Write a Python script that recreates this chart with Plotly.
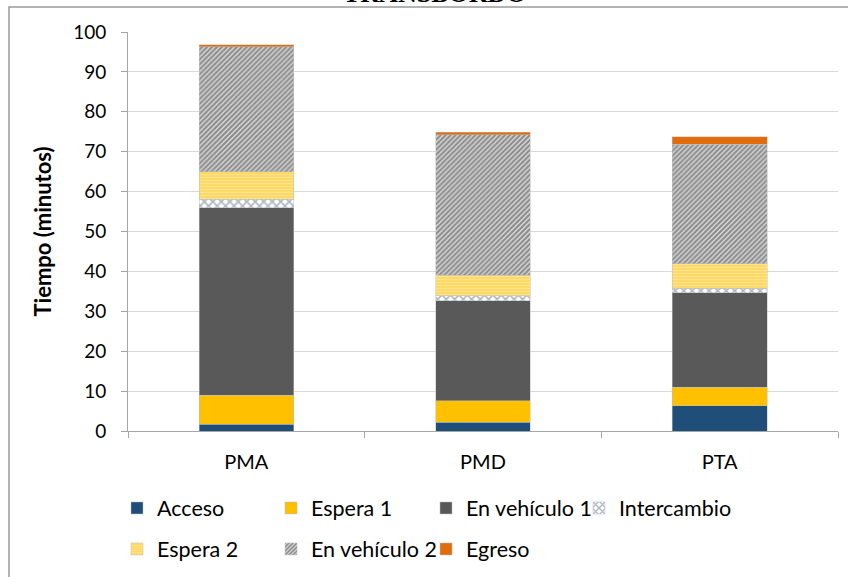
import plotly.graph_objects as go

categories = ["PMA", "PMD", "PTA"]
acceso = [1.75, 2.2, 6.3]
espera1 = [7.2, 5.4, 4.65]
en_vehiculo1 = [47.0, 25.0, 23.75]
intercambio = [2.1, 1.3, 1.1]
espera2 = [6.9, 5.1, 6.1]
en_vehiculo2 = [31.3, 35.3, 30.0]
egreso = [0.6, 0.6, 1.9]

y_ticks = [0, 10, 20, 30, 40, 50, 60, 70, 80, 90, 100]

FONT = "Lato"
W, H = 848, 577
L, T = 128, 32
PW, PH = 710, 399
R, B = W - L - PW, H - T - PH


def px_x(px):
    return (px - L) / PW


def px_y(py):
    return (T + PH - py) / PH


series = [
    ("Acceso", acceso, dict(color="#1f4e79")),
    ("Espera 1", espera1, dict(color="#ffc000")),
    ("En vehículo 1", en_vehiculo1, dict(color="#595959")),
    ("Intercambio", intercambio, dict(color="white",
                                      pattern=dict(shape="x", fgcolor="#5f6f88", bgcolor="white",
                                                   size=6, solidity=0.5, fillmode="overlay"))),
    ("Espera 2", espera2, dict(color="#ffd966",
                               pattern=dict(shape="-", fgcolor="#fff0c0", bgcolor="#ffd966",
                                            size=3, solidity=0.3, fillmode="overlay"))),
    ("En vehículo 2", en_vehiculo2, dict(color="#cfcfcf",
                                         pattern=dict(shape="/", fgcolor="#3f3f3f", bgcolor="#d4d4d4",
                                                      size=3.5, solidity=0.55, fillmode="overlay"))),
    ("Egreso", egreso, dict(color="#e36c0a")),
]

# legend placements (reference text start px, row center px)
legend_pos = [(157, 508), (311, 508), (466, 508), (619, 508),
              (157, 549), (311, 549), (466, 549)]

fig = go.Figure()
layout_legends = {}
for i, ((name, vals, mk), (tx, ty)) in enumerate(zip(series, legend_pos)):
    key = "legend" if i == 0 else f"legend{i+1}"
    mk = dict(mk)
    mk["line"] = dict(color="#bfbfbf", width=0.5)
    fig.add_trace(go.Bar(name=name, x=categories, y=vals, marker=mk,
                         legend=key, hoverinfo="skip"))
    layout_legends[key] = dict(
        x=px_x(tx - 40), y=px_y(ty), xanchor="left", yanchor="middle",
        orientation="h", bgcolor="rgba(0,0,0,0)", borderwidth=0,
        font=dict(family=FONT, size=21.5, color="#000000"),
        itemclick=False, itemdoubleclick=False, tracegroupgap=0,
    )

fig.update_layout(
    width=W, height=H,
    margin=dict(l=L, r=R, t=T, b=B, autoexpand=False),
    barmode="stack", bargap=0.6,
    plot_bgcolor="white", paper_bgcolor="white",
    font=dict(family=FONT, size=20, color="#000000"),
    showlegend=True,
    **layout_legends,
)

fig.update_xaxes(
    type="category", showgrid=False, showline=True, linecolor="#a6a6a6", linewidth=1,
    ticks="outside", tickson="boundaries", ticklen=6, tickcolor="#a6a6a6",
    tickfont=dict(family=FONT, size=20), ticklabelstandoff=13,
    automargin=False,
)
fig.update_yaxes(
    range=[0, 100], tickvals=y_ticks, showgrid=True, gridcolor="#d9d9d9", gridwidth=1,
    showline=True, linecolor="#a6a6a6", linewidth=1, zeroline=False,
    ticks="outside", ticklen=6, tickcolor="#a6a6a6",
    tickfont=dict(family=FONT, size=19), ticklabelstandoff=11,
    title=dict(text="<b>Tiempo (minutos)</b>", font=dict(family=FONT, size=22), standoff=15),
    automargin=False,
)

# cropped title at top (only its lower edge shows in the reference)
fig.add_annotation(
    text="<b>TRANSBORDO</b>", xref="paper", yref="paper",
    x=px_x(434), y=px_y(10), xanchor="center", yanchor="bottom",
    showarrow=False, font=dict(family="Liberation Serif", size=26, color="#000000"),
)

# chart area border
fig.add_shape(type="rect", xref="paper", yref="paper",
              x0=px_x(9), x1=px_x(900), y0=px_y(620), y1=px_y(7),
              line=dict(color="#9a9a9a", width=1.5), fillcolor="rgba(0,0,0,0)", layer="above")

fig.write_html("out.html", config={"displayModeBar": False},
               post_script="document.body.style.margin='0px';")
